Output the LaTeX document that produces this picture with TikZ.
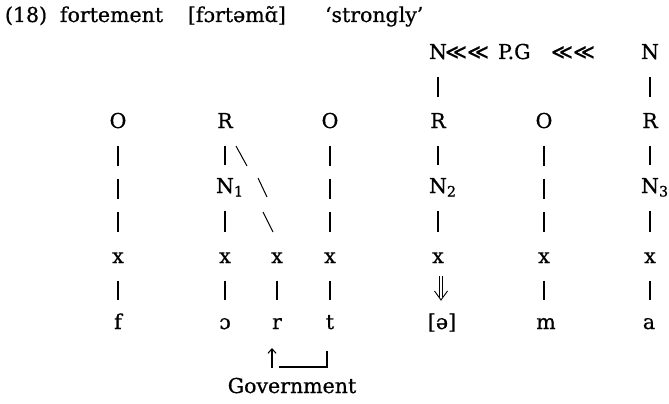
\documentclass[tikz,border=0pt]{standalone}
\usepackage{fontspec}
\setmainfont{DejaVu Serif}[FakeBold=0.7]
\newfontfamily\symfont{DejaVu Sans}[FakeBold=0.5]
\usetikzlibrary{arrows.meta}
\begin{document}
\begin{tikzpicture}[x=1pt,y=-1pt,
  every node/.style={inner sep=0pt, outer sep=0pt, font=\fontsize{20.5pt}{24pt}\selectfont},
  lab/.style={anchor=base, text height=15pt, text depth=0pt},
  txt/.style={anchor=base west},
  sym/.style={anchor=base west, font=\symfont\fontsize{21pt}{24pt}\selectfont},
  bar/.style={line width=1.05pt, shorten <=17.5pt, shorten >=16pt},
  bars/.style={bar, dash pattern=on 20pt off 13pt},
  slash/.style={line width=1pt},
  thinline/.style={line width=0.7pt},
]
\useasboundingbox (0,0) rectangle (669,404);
% title
\node[txt] (num) at (5,22) {(18)};
\node[txt] (fort) at (60,22) {fortement};
\node[txt] (ipa) at (188,22) {[fɔrtəmɑ̃]};
\node[txt] (gloss) at (325,22) {‘strongly’};
% N row
\node[lab] (Na) at (438,59) {N};
\node[sym] (ll1) at (445,59) {≪≪};
\node[txt] (pg) at (498,59) {P.G};
\node[sym] (ll2) at (551,59) {≪≪};
\node[lab] (Nb) at (650,59) {N};
% O/R row
\node[lab] (O1) at (118,128) {O};
\node[lab] (R2) at (225,128) {R};
\node[lab] (O4) at (330,128) {O};
\node[lab] (R5) at (438,128) {R};
\node[lab] (O6) at (544,128) {O};
\node[lab] (R7) at (650,128) {R};
% nucleus row
\node[lab] (N1) at (225,193) {N\rlap{\textsubscript{1}}};
\node[lab] (N2) at (438,193) {N\rlap{\textsubscript{2}}};
\node[lab] (N3) at (650,193) {N\rlap{\textsubscript{3}}};
% x row
\node[lab] (x1) at (118,263) {x};
\node[lab] (x2) at (225,263) {x};
\node[lab] (x3) at (277,263) {x};
\node[lab] (x4) at (330,263) {x};
\node[lab] (x5) at (438,263) {x};
\node[lab] (x6) at (544,263) {x};
\node[lab] (x7) at (650,263) {x};
% segment row
\node[lab] (sf) at (118,329) {f};
\node[lab] (so) at (225,329) {ɔ};
\node[lab] (sr) at (277,329) {r};
\node[lab] (st) at (330,329) {t};
\node[lab] (schwa) at (442,329) {[ə]};
\node[lab] (sm) at (546,329) {m};
\node[lab] (sa) at (649,329) {a};
\node[anchor=base] (gov) at (292,393) {Government};
% connectors
\draw[bar] (Na.south) -- (R5.north);
\draw[bar] (Nb.south) -- (R7.north);
\draw[bars] (O1.south) -- (x1.north);
\draw[bars] (O4.south) -- (x4.north);
\draw[bars] (O6.south) -- (x6.north);
\draw[bar, shorten >=13pt] (R2.south) -- (N1.north);
\draw[bar, shorten >=13pt] (R5.south) -- (N2.north);
\draw[bar, shorten >=13pt] (R7.south) -- (N3.north);
\draw[bar] (N1.south) -- (x2.north);
\draw[bar] (N2.south) -- (x5.north);
\draw[bar] (N3.south) -- (x7.north);
\draw[bar, shorten >=14pt] (x1.south) -- (sf.north);
\draw[bar, shorten >=14pt] (x2.south) -- (so.north);
\draw[bar, shorten >=14pt] (x3.south) -- (sr.north);
\draw[bar, shorten >=14pt] (x4.south) -- (st.north);
\draw[bar, shorten >=14pt] (x6.south) -- (x6.south |- sm.north);
\draw[bar, shorten >=14pt] (x7.south) -- (x7.south |- sa.north);
% double arrow x5 => schwa
\coordinate (da) at (441,276);
\coordinate (db) at (441,300);
\draw[thinline] ([xshift=-1.8pt]da) -- ([xshift=-1.8pt,yshift=3pt]db);
\draw[thinline] ([xshift=1.8pt]da) -- ([xshift=1.8pt,yshift=3pt]db);
\draw[line width=0.9pt] ([xshift=-6.5pt,yshift=9pt]db) -- (db) -- ([xshift=6.5pt,yshift=9pt]db);
% backslashes R -> x
\draw[slash] (236,146) -- (247,166);
\draw[slash] (258,178) -- (267,197);
\draw[slash] (263,212) -- (273,232);
% government
\coordinate (ga) at (272,368);
\coordinate (gb) at (272,348);
\coordinate (gc) at (279,367);
\coordinate (gd) at (327,367);
\coordinate (ge) at (327,351);
\draw[line width=1.05pt, -{Straight Barb[length=4.5pt,width=8pt]}] (ga) -- (gb);
\draw[line width=1.05pt] (gc) -- (gd) -- (ge);
\end{tikzpicture}
\end{document}
